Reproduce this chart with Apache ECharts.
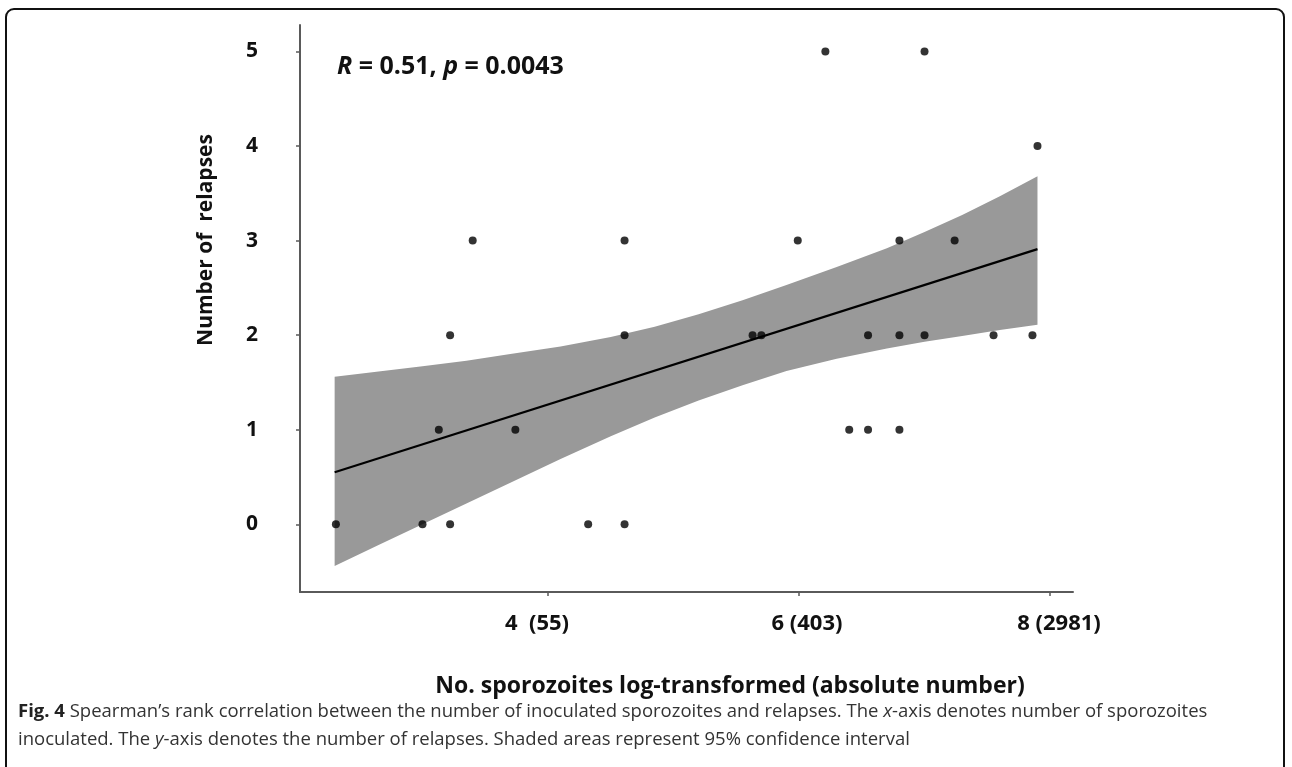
<!DOCTYPE html>
<html>
<head>
<meta charset="utf-8">
<script src="https://cdn.jsdelivr.net/npm/echarts@6/dist/echarts.min.js"></script>
<style>
html,body{margin:0;padding:0;background:#fff;}
#chart{width:1292px;height:767px;}
</style>
</head>
<body>
<div id="chart"></div>
<script>
// ---- data ----
const xTickValues = [4, 6, 8];
const xTickLabels = ['4  (55)', '6 (403)', '8 (2981)'];
const yTickValues = [0, 1, 2, 3, 4, 5];

const sporozoitesLog = [6.21, 7.00, 7.90, 3.40, 4.61, 5.99, 6.80, 7.24, 3.22, 4.61, 5.63, 5.70, 6.55, 6.80, 7.00, 7.55, 7.86, 3.13, 3.74, 6.40, 6.55, 6.80, 2.31, 3.00, 3.22, 4.32, 4.61];
const relapses      = [5,    5,    4,    3,    3,    3,    3,    3,    2,    2,    2,    2,    2,    2,    2,    2,    2,    1,    1,    1,    1,    1,    0,    0,    0,    0,    0];

const fitX = [2.30, 7.90];
const fitY = [0.55, 2.91];

const bandX     = [2.30, 2.65, 3.00, 3.35, 3.70, 4.10, 4.50, 4.85, 5.20, 5.55, 5.90, 6.30, 6.70, 7.00, 7.30, 7.60, 7.90];
const bandUpper = [1.56, 1.615, 1.67, 1.73, 1.80, 1.88, 1.98, 2.09, 2.22, 2.37, 2.53, 2.72, 2.92, 3.09, 3.27, 3.47, 3.68];
const bandLower = [-0.44, -0.22, 0.00, 0.22, 0.44, 0.69, 0.93, 1.13, 1.31, 1.47, 1.62, 1.75, 1.86, 1.93, 1.99, 2.055, 2.11];

const statText = ['R', ' = 0.51, ', 'p', ' = 0.0043'];
const xTitle = 'No. sporozoites log-transformed (absolute number)';
const yTitle = 'Number of  relapses';

// ---- chart ----
const chart = echarts.init(document.getElementById('chart'), null, {renderer: 'canvas'});
const FONT = '"Open Sans", Lato, sans-serif';
const CAPFONT = '"Open Sans", sans-serif';

const points = sporozoitesLog.map((x, i) => [x, relapses[i]]);
const fitLine = fitX.map((x, i) => [x, fitY[i]]);

const labelRich = function (pad) {
  return {fontFamily: FONT, fontWeight: 'bold', fontSize: 22, color: '#111', padding: pad};
};

const option = {
  backgroundColor: '#ffffff',
  animation: false,
  grid: {left: 300, right: 219, top: 25, bottom: 175, containLabel: false},
  xAxis: {
    type: 'value',
    min: 2.024,
    max: 8.183,
    axisLine: {show: true, onZero: false, lineStyle: {color: '#5a5a5a', width: 2}},
    axisTick: {show: true, length: 4, customValues: xTickValues, lineStyle: {color: '#5a5a5a', width: 1.5}},
    axisLabel: {
      customValues: xTickValues,
      margin: 21,
      fontFamily: FONT, fontWeight: 'bold', fontSize: 22, color: '#111',
      formatter: function (v) {
        const idx = xTickValues.indexOf(Math.round(v));
        const key = ['a', 'b', 'c'][idx];
        return '{' + key + '|' + xTickLabels[idx] + '}';
      },
      rich: {
        a: labelRich([0, 22, 0, 0]),
        b: labelRich([0, 0, 0, 16]),
        c: labelRich([0, 0, 0, 18])
      }
    },
    splitLine: {show: false}
  },
  yAxis: {
    type: 'value',
    min: -0.716,
    max: 5.28,
    axisLine: {show: true, onZero: false, lineStyle: {color: '#5a5a5a', width: 2}},
    axisTick: {show: true, length: 4, customValues: yTickValues, lineStyle: {color: '#5a5a5a', width: 1.5}},
    axisLabel: {
      customValues: yTickValues,
      margin: 42,
      fontFamily: FONT, fontWeight: 'bold', fontSize: 21, color: '#111'
    },
    splitLine: {show: false}
  },
  series: [
    {
      type: 'custom',
      name: 'CI',
      silent: true,
      z: 1,
      data: [[bandX[0], bandLower[0]]],
      renderItem: function (params, api) {
        const pts = [];
        for (let i = 0; i < bandX.length; i++) pts.push(api.coord([bandX[i], bandUpper[i]]));
        for (let i = bandX.length - 1; i >= 0; i--) pts.push(api.coord([bandX[i], bandLower[i]]));
        return {type: 'polygon', shape: {points: pts}, style: {fill: '#999999', stroke: null}};
      }
    },
    {
      type: 'line',
      name: 'fit',
      z: 2,
      data: fitLine,
      showSymbol: false,
      lineStyle: {color: '#000', width: 2.2}
    },
    {
      type: 'scatter',
      name: 'subjects',
      z: 3,
      data: points,
      symbol: 'circle',
      symbolSize: 8,
      itemStyle: {color: '#000'}
    }
  ],
  graphic: [
    {
      type: 'rect',
      shape: {x: 6, y: 9, width: 1278, height: 820, r: 8},
      style: {fill: 'none', stroke: '#111', lineWidth: 2},
      silent: true
    },
    {
      type: 'text',
      x: 337, y: 67,
      style: {
        text: '{i|' + statText[0] + '}{n|' + statText[1] + '}{i|' + statText[2] + '}{n|' + statText[3] + '}',
        verticalAlign: 'middle',
        rich: {
          i: {fontFamily: FONT, fontWeight: 'bold', fontStyle: 'italic', fontSize: 25, fill: '#111'},
          n: {fontFamily: FONT, fontWeight: 'bold', fontSize: 25, fill: '#111'}
        }
      }
    },
    {
      type: 'text',
      x: 206, y: 240,
      rotation: Math.PI / 2,
      style: {
        text: yTitle, fontFamily: FONT, fontWeight: 'bold', fontSize: 21, fill: '#111',
        align: 'center', verticalAlign: 'middle'
      }
    },
    {
      type: 'text',
      x: 730, y: 686,
      style: {
        text: xTitle, fontFamily: FONT, fontWeight: 'bold', fontSize: 23, fill: '#111',
        align: 'center', verticalAlign: 'middle'
      }
    },
    {
      type: 'text',
      x: 18, y: 712,
      style: {
        text: '{b|Fig. 4} Spearman’s rank correlation between the number of inoculated sporozoites and relapses. The {i|x}-axis denotes number of sporozoites',
        fontFamily: CAPFONT, fontSize: 18.5, fill: '#333',
        verticalAlign: 'middle',
        rich: {
          b: {fontFamily: CAPFONT, fontWeight: 'bold', fontSize: 18.5, fill: '#222'},
          i: {fontFamily: CAPFONT, fontStyle: 'italic', fontSize: 18.5, fill: '#333'}
        }
      }
    },
    {
      type: 'text',
      x: 18, y: 740,
      style: {
        text: 'inoculated. The {i|y}-axis denotes the number of relapses. Shaded areas represent 95% confidence interval',
        fontFamily: CAPFONT, fontSize: 18.5, fill: '#333',
        verticalAlign: 'middle',
        rich: {
          i: {fontFamily: CAPFONT, fontStyle: 'italic', fontSize: 18.5, fill: '#333'}
        }
      }
    }
  ]
};
chart.setOption(option);
</script>
</body>
</html>
